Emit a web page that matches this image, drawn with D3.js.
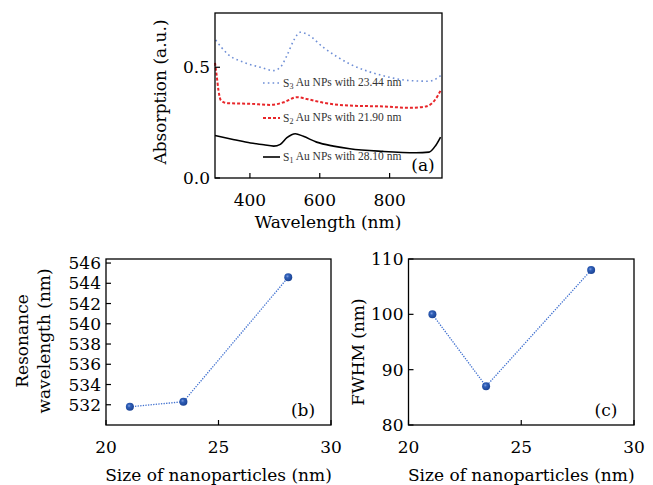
<!DOCTYPE html>
<html>
<head>
<meta charset="utf-8">
<script src="https://cdn.jsdelivr.net/npm/d3@7"></script>
<style>
  html, body { margin: 0; padding: 0; background: #fff; }
  svg { display: block; font-family: "DejaVu Serif", serif; }
</style>
</head>
<body>
<svg id="fig" width="653" height="485"></svg>
<script>
// spectra (a): wavelength (nm) vs absorption
const s1Wl = [300, 355, 402, 440, 468, 487, 506, 530, 553, 591, 639, 686, 781, 875, 913, 932, 946];
const s1Abs = [0.192, 0.173, 0.158, 0.150, 0.144, 0.152, 0.182, 0.200, 0.188, 0.162, 0.144, 0.132, 0.120, 0.114, 0.117, 0.147, 0.185];
const s2Wl = [300, 305, 310, 317, 336, 402, 459, 497, 534, 563, 610, 686, 781, 857, 904, 932, 946];
const s2Abs = [0.52, 0.46, 0.395, 0.35, 0.338, 0.335, 0.330, 0.342, 0.365, 0.357, 0.340, 0.327, 0.323, 0.317, 0.323, 0.357, 0.395];
const s3Wl = [302, 336, 383, 430, 468, 487, 506, 525, 544, 563, 610, 686, 781, 857, 913, 946];
const s3Abs = [0.623, 0.56, 0.522, 0.50, 0.485, 0.50, 0.553, 0.62, 0.658, 0.65, 0.59, 0.515, 0.462, 0.44, 0.437, 0.462];
const legendLabels = ["Au NPs with 28.10 nm", "Au NPs with 21.90 nm", "Au NPs with 23.44 nm"];

// (b) and (c): particle size vs resonance / FWHM
const sizes = [21.06, 23.44, 28.1];
const resonance = [531.8, 532.3, 544.6];
const fwhm = [100, 87, 108];
const resTicks = [532, 534, 536, 538, 540, 542, 544, 546];
const fwhmTicks = [80, 90, 100, 110];
const sizeTicks = [20, 25, 30];

const svg = d3.select("#fig");
const defs = svg.append("defs");
const grad = defs.append("radialGradient").attr("id", "ball")
  .attr("cx", "40%").attr("cy", "38%").attr("r", "60%");
grad.append("stop").attr("offset", "0%").attr("stop-color", "#7f9ee0");
grad.append("stop").attr("offset", "35%").attr("stop-color", "#2f5fb8");
grad.append("stop").attr("offset", "100%").attr("stop-color", "#1d4596");

function frame(g, x, y) {
  const [x0, x1] = x.range();
  const [y0, y1] = y.range();
  g.append("rect").attr("x", x0).attr("y", y1).attr("width", x1 - x0).attr("height", y0 - y1)
    .attr("fill", "none").attr("stroke", "#000").attr("stroke-width", 1.3);
}

function ticks(g, x, y, xt, yt, xFmt, yFmt) {
  const [x0] = x.range();
  const [y0] = y.range();
  g.selectAll(".xt").data(xt).join("line")
    .attr("x1", d => x(d)).attr("x2", d => x(d)).attr("y1", y0).attr("y2", y0 - 5)
    .attr("stroke", "#000").attr("stroke-width", 1.2);
  g.selectAll(".xl").data(xt).join("text")
    .attr("x", d => x(d)).attr("y", y0 + 28).attr("text-anchor", "middle")
    .attr("font-size", 17).text(xFmt);
  g.selectAll(".yt").data(yt).join("line")
    .attr("x1", x0).attr("x2", x0 + 5).attr("y1", d => y(d)).attr("y2", d => y(d))
    .attr("stroke", "#000").attr("stroke-width", 1.2);
  g.selectAll(".yl").data(yt).join("text")
    .attr("x", x0 - 5).attr("y", d => y(d)).attr("dy", "0.36em").attr("text-anchor", "end")
    .attr("font-size", 17).text(yFmt);
}

// ---- panel (a)
const xa = d3.scaleLinear().domain([300, 950]).range([215, 442]);
const ya = d3.scaleLinear().domain([0, 0.745]).range([178, 13]);
const ga = svg.append("g");
const line = d3.line().x(d => xa(d[0])).y(d => ya(d[1])).curve(d3.curveMonotoneX);
const seriesA = [
  { wl: s3Wl, v: s3Abs, color: "#6f8fd6", dash: "1.6,3.2", w: 1.6 },
  { wl: s2Wl, v: s2Abs, color: "#e8262a", dash: "3,2", w: 2 },
  { wl: s1Wl, v: s1Abs, color: "#000", dash: null, w: 1.6 }
];
seriesA.forEach(s => {
  ga.append("path").datum(d3.zip(s.wl, s.v)).attr("d", line)
    .attr("fill", "none").attr("stroke", s.color).attr("stroke-width", s.w)
    .attr("stroke-dasharray", s.dash);
});
ticks(ga, xa, ya, [400, 600, 800], [0, 0.5], d => d, d3.format(".1f"));
frame(ga, xa, ya);

const legend = [
  { sub: "3", y: 83, s: seriesA[0] },
  { sub: "2", y: 118, s: seriesA[1] },
  { sub: "1", y: 157, s: seriesA[2] }
];
legend.forEach((d, i) => {
  ga.append("line").attr("x1", 263).attr("x2", 280).attr("y1", d.y).attr("y2", d.y)
    .attr("stroke", d.s.color).attr("stroke-width", d.s.w).attr("stroke-dasharray", d.s.dash);
  const t = ga.append("text").attr("x", 283).attr("y", d.y).attr("dy", "0.35em")
    .attr("font-family", "'Liberation Serif', serif")
    .attr("font-size", 11.5).attr("fill", "#333");
  t.append("tspan").text("S");
  t.append("tspan").attr("font-size", 8).attr("dy", "0.3em").text(d.sub);
  t.append("tspan").attr("dy", "-0.3em").text(" " + legendLabels[2 - i]);
});
ga.append("text").attr("x", 423).attr("y", 171).attr("text-anchor", "middle").attr("font-size", 17).text("(a)");
ga.append("text").attr("x", 328).attr("y", 228).attr("text-anchor", "middle").attr("font-size", 17).text("Wavelength (nm)");
ga.append("text").attr("transform", "translate(166,92) rotate(-90)").attr("text-anchor", "middle")
  .attr("font-size", 17).text("Absorption (a.u.)");

// ---- panels (b) and (c)
function scatterPanel(left, right, yDomain, yTicks, values, tag) {
  const x = d3.scaleLinear().domain([20, 30]).range([left, right]);
  const y = d3.scaleLinear().domain(yDomain).range([425, 259]);
  const g = svg.append("g");
  ticks(g, x, y, sizeTicks, yTicks, d => d, d => d);
  frame(g, x, y);
  const pts = d3.zip(sizes, values);
  g.append("path").datum(pts)
    .attr("d", d3.line().x(d => x(d[0])).y(d => y(d[1])))
    .attr("fill", "none").attr("stroke", "#3e6fcf").attr("stroke-width", 1.3)
    .attr("stroke-dasharray", "1.3,1.3");
  g.selectAll("circle").data(pts).join("circle")
    .attr("cx", d => x(d[0])).attr("cy", d => y(d[1])).attr("r", 4)
    .attr("fill", "url(#ball)");
  g.append("text").attr("x", right - 28).attr("y", 416).attr("text-anchor", "middle")
    .attr("font-size", 17).text(tag);
  g.append("text").attr("x", (left + right) / 2).attr("y", 481).attr("text-anchor", "middle")
    .attr("font-size", 17).text("Size of nanoparticles (nm)");
  return g;
}

const gb = scatterPanel(106, 331, [530, 546.4], resTicks, resonance, "(b)");
gb.append("text").attr("transform", "translate(28,341) rotate(-90)").attr("text-anchor", "middle")
  .attr("font-size", 17).text("Resonance");
gb.append("text").attr("transform", "translate(50,341) rotate(-90)").attr("text-anchor", "middle")
  .attr("font-size", 17).text("wavelength (nm)");

const gc = scatterPanel(408.5, 634, [80, 110], fwhmTicks, fwhm, "(c)");
gc.append("text").attr("transform", "translate(364,352) rotate(-90)").attr("text-anchor", "middle")
  .attr("font-size", 17).text("FWHM (nm)");
</script>
</body>
</html>
